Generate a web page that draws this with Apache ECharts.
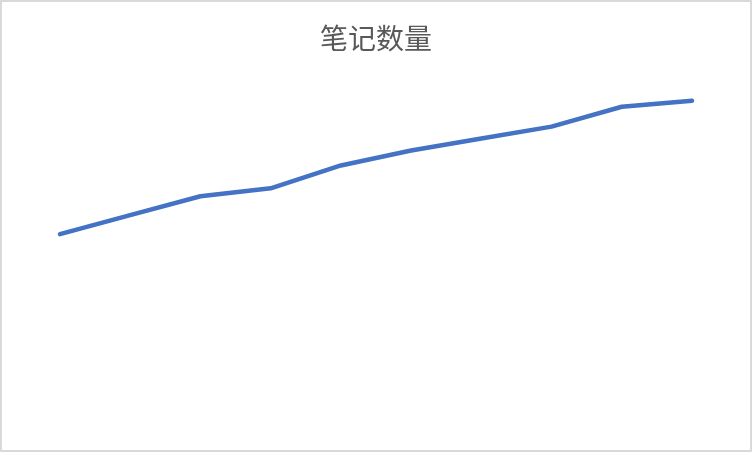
<!DOCTYPE html>
<html lang="zh">
<head>
    <meta charset="UTF-8">
    <script src="https://cdn.jsdelivr.net/npm/echarts@6/dist/echarts.min.js"></script>
    <title>笔记数量</title>
    <style>
      html, body { margin: 0; padding: 0; background: #fff; }
      #main { width: 748px; height: 448px; border: 2px solid #d9d9d9; }
    </style>
</head>
<body>
    <div id="main"></div>
    <script type="text/javascript">
      // 数据
      var categories = ['1', '2', '3', '4', '5', '6', '7', '8', '9', '10'];
      var noteCounts = [217, 236, 255, 263, 286, 301, 313, 325, 345, 351];

      var myChart = echarts.init(document.getElementById('main'));

      var option = {
        animation: false,
        title: {
          text: '笔记数量',
          left: 'center',
          top: 17,
          textStyle: {
            fontFamily: 'Noto Sans CJK SC',
            fontSize: 28,
            fontWeight: 'normal',
            color: '#595959'
          }
        },
        grid: { left: 58, right: 58, top: 50, bottom: -2 },
        xAxis: {
          type: 'category',
          data: categories,
          boundaryGap: false,
          show: false
        },
        yAxis: {
          type: 'value',
          min: 0,
          max: 400,
          show: false
        },
        series: [
          {
            name: '笔记数量',
            type: 'line',
            data: noteCounts,
            symbol: 'none',
            lineStyle: { color: '#4472C4', width: 4.5, cap: 'round', join: 'round' }
          }
        ]
      };

      myChart.setOption(option);
    </script>
</body>
</html>
